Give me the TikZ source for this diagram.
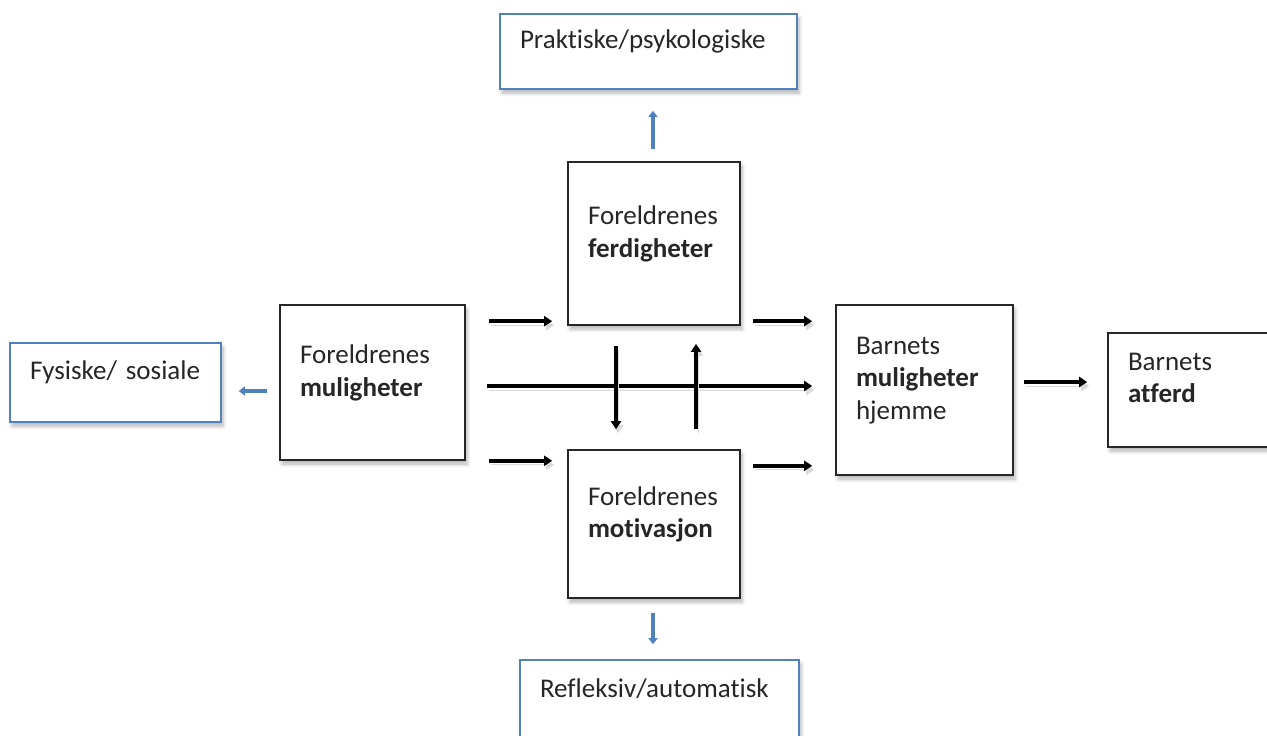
\documentclass[tikz,border=0pt]{standalone}
\usepackage{fontspec}
\setmainfont{Carlito}[Ligatures=NoCommon]
\usetikzlibrary{arrows.meta,calc,shadows.blur}
\definecolor{officeblue}{RGB}{79,129,189}
\definecolor{textgray}{RGB}{38,38,38}
\newcommand{\lowpad}{\rule[-12pt]{0pt}{12pt}}
\tikzset{
  box/.style={rectangle, draw, align=left, fill=white, inner xsep=10pt, inner ysep=0pt,
              text=textgray, font=\fontsize{13.5}{16.2}\selectfont,
              execute at end node=\lowpad,
              blur shadow={shadow xshift=1pt, shadow yshift=-2pt, shadow blur steps=6, shadow opacity=30}},
  factor/.style={box, draw=black!85, line width=0.8pt},
  aspect/.style={box, draw=officeblue, line width=0.8pt},
  ar/.style={-{Triangle[length=4pt,width=5pt]}, line width=2.2pt, draw=black,
             preaction={draw=black!15, transform canvas={shift={(1pt,-2pt)}}}},
  bluear/.style={-{Triangle[length=3pt,width=4.5pt]}, line width=2.3pt, draw=officeblue},
}

\begin{document}
\begin{tikzpicture}[x=0.5pt, y=-0.5pt]
  \useasboundingbox (0,0) rectangle (1267,735);
  % the three parental factors
  \node[factor, text width=72.5pt, minimum height=77.5pt] (mul) at (372.5,382.5) {Foreldrenes\\\textbf{muligheter}};
  \node[factor, text width=66pt, minimum height=81.5pt] (ferd) at (654,243.5) {Foreldrenes\\\textbf{ferdigheter}};
  \node[factor, text width=66pt, minimum height=74pt] (motiv) at (654,524) {Foreldrenes\\\textbf{motivasjon}};
  \node[factor, text width=68.5pt, minimum height=85pt] (barn) at (924.5,390) {Barnets\\\textbf{muligheter}\\hjemme};
  \node[factor, text width=70pt, minimum height=57pt] (atferd) at (1198,390) {Barnets\\\textbf{atferd}};
  % aspects (blue)
  \node[aspect, text width=128.5pt, minimum height=37.5pt] (prak) at (648.5,51.5) {Praktiske/psykologiske};
  \node[aspect, text width=85.5pt, minimum height=39.5pt] (fys) at (115.5,382.5) {Fysiske/~sosiale};
  \node[aspect, text width=119.5pt, minimum height=40pt] (refl) at (659.5,700) {Refleksiv/automatisk};
  % black arrows
  \draw[ar] ($(mul.north east)+(23,17)$) -- ($(ferd.west |- mul.north east)+(-15,17)$);
  \draw[ar] ($(ferd.east |- mul.north east)+(12,17)$) -- ($(barn.west |- mul.north east)+(-23,17)$);
  \draw[ar] ($(mul.east)+(21,3.5)$) -- ($(barn.west |- mul.east)+(-23,3.5)$);
  \draw[ar] ($(mul.south east)+(23,0)$) -- ($(motiv.west |- mul.south east)+(-15,0)$);
  \draw[ar] ($(motiv.east |- mul.south east)+(12,5)$) -- ($(barn.west |- mul.south east)+(-23,5)$);
  \draw[ar] ($(ferd.south)+(-38,20)$) -- ($(motiv.north)+(-38,-20)$);
  \draw[ar] ($(motiv.north)+(42,-20)$) -- ($(ferd.south)+(42,18)$);
  \draw[ar] ($(barn.east)+(10,-8)$) -- ($(atferd.west)+(-20,-8)$);
  % blue arrows
  \draw[bluear] ($(ferd.north)+(-1,-12)$) -- ($(prak.south)+(4.5,21)$);
  \draw[bluear] ($(mul.west)+(-12,8.5)$) -- ($(fys.east)+(17,8.5)$);
  \draw[bluear] ($(motiv.south)+(-1,14)$) -- ($(refl.north)+(-6.5,-15)$);
\end{tikzpicture}
\end{document}
